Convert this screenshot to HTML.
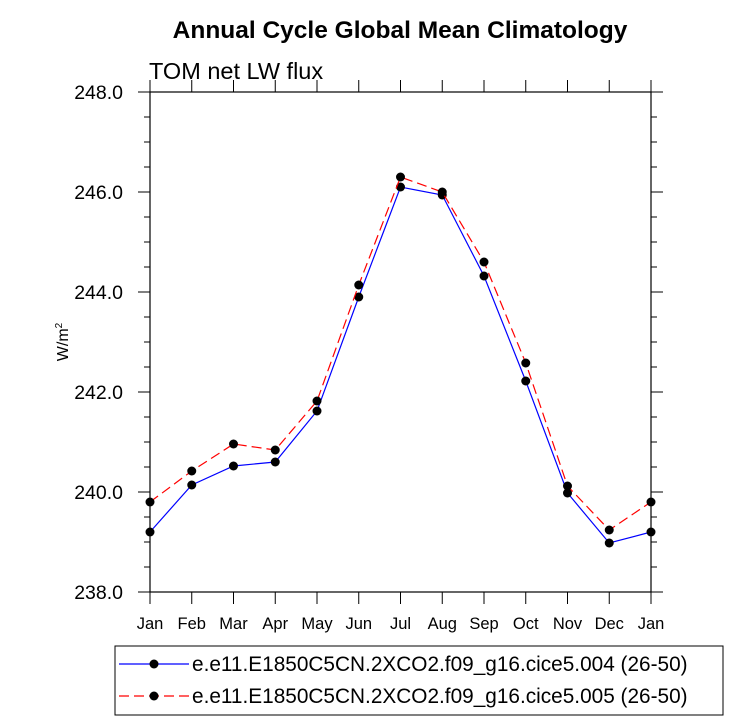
<!DOCTYPE html>
<html><head><meta charset="utf-8"><style>
body{margin:0;background:#fff;}
svg text{font-family:"Liberation Sans",sans-serif;}
</style></head><body>
<svg id="chart" width="733" height="722" xmlns="http://www.w3.org/2000/svg">
<text x="400" y="38" text-anchor="middle" font-size="24.5" font-weight="bold">Annual Cycle Global Mean Climatology</text>
<text x="149" y="79" font-size="23.5">TOM net LW flux</text>
<text transform="translate(68,342) rotate(-90)" text-anchor="middle" font-size="16">W/m<tspan font-size="10" dy="-6">2</tspan></text>
<g id="axes"></g>
<g id="series"></g>
<g id="legend">
<rect x="115" y="646" width="608" height="69" fill="none" stroke="#000" stroke-width="1"/>
<g>
<line x1="119" y1="664" x2="189" y2="664" stroke="#0000ff" stroke-width="1.2"/>
<circle cx="154" cy="664" r="4.5" fill="#000"/>
<text x="192" y="671" font-size="20.8">e.e11.E1850C5CN.2XCO2.f09_g16.cice5.004 (26-50)</text>
</g>
<g>
<line x1="119" y1="696" x2="189" y2="696" stroke="#ff0000" stroke-width="1.2" stroke-dasharray="10,5"/>
<circle cx="154" cy="696" r="4.5" fill="#000"/>
<text x="192" y="703" font-size="20.8">e.e11.E1850C5CN.2XCO2.f09_g16.cice5.005 (26-50)</text>
</g>
</g>
</svg>
<script>
const months=["Jan","Feb","Mar","Apr","May","Jun","Jul","Aug","Sep","Oct","Nov","Dec","Jan"];
const series004=[239.2,240.14,240.52,240.6,241.62,243.9,246.1,245.94,244.32,242.22,239.98,238.98,239.2];
const series005=[239.8,240.42,240.96,240.84,241.82,244.14,246.3,246.0,244.6,242.58,240.12,239.24,239.8];
const yTicks=[238,240,242,244,246,248];
const L=150,R=651,T=92,B=592,yMin=238,yMax=248;
const NS="http://www.w3.org/2000/svg";
const xS=i=>L+(R-L)*i/(months.length-1);
const yS=v=>B-(v-yMin)/(yMax-yMin)*(B-T);
function mk(tag,attrs,parent){const e=document.createElementNS(NS,tag);for(const k in attrs)e.setAttribute(k,attrs[k]);parent.appendChild(e);return e;}
const ax=document.getElementById('axes');
const frame=mk('rect',{x:L,y:T,width:R-L,height:B-T,fill:'none',stroke:'#000','stroke-width':1.2},ax);


for(let v=yMin;v<=yMax+1e-9;v+=0.5){
  const y=yS(v);const major=Math.abs(v/2-Math.round(v/2))<1e-6;const len=major?12:6;
  mk('line',{x1:L-len,y1:y,x2:L,y2:y,stroke:'#000'},ax);
  mk('line',{x1:R,y1:y,x2:R+len,y2:y,stroke:'#000'},ax);
}
yTicks.forEach(v=>{
  const t=mk('text',{x:L-27,y:yS(v)+7,'text-anchor':'end','font-size':19.5},ax);
  t.textContent=v.toFixed(1);
  
  
});
months.forEach((m,i)=>{
  const x=xS(i);
  mk('line',{x1:x,y1:B,x2:x,y2:B+12,stroke:'#000'},ax);
  mk('line',{x1:x,y1:T-12,x2:x,y2:T,stroke:'#000'},ax);
  const t=mk('text',{x:x,y:B+37,'text-anchor':'middle','font-size':16.5},ax);
  t.textContent=m;
  
  
});
const sg=document.getElementById('series');
function draw(vals,color,dash,name){
  const g=mk('g',{},sg);
  
  
  const pts=vals.map((v,i)=>xS(i)+','+yS(v)).join(' ');
  const pl=mk('polyline',{points:pts,fill:'none',stroke:color,'stroke-width':1.2},g);
  if(dash)pl.setAttribute('stroke-dasharray',dash);
  vals.forEach((v,i)=>{
    const c=mk('circle',{cx:xS(i),cy:yS(v),r:4.5,fill:'#000'},g);
    
    
  });
}
draw(series004,'#0000ff',null,'series-004-line');
draw(series005,'#ff0000','10,5','series-005-line');
</script>
</body></html>
